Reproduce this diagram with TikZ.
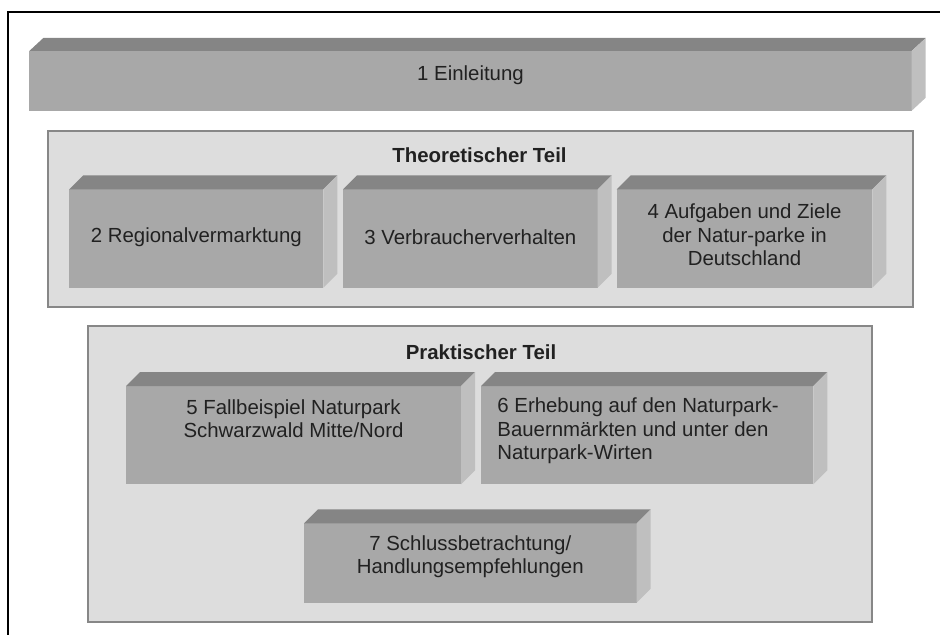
\documentclass[tikz,border=0pt]{standalone}
\usepackage{fontspec}
\setmainfont{Liberation Sans}
\usepackage{tikz}
\usetikzlibrary{calc}
\usetikzlibrary{positioning}

\definecolor{frontgray}{gray}{0.66}
\definecolor{topgray}{gray}{0.52}
\definecolor{sidegray}{gray}{0.75}
\definecolor{panelgray}{gray}{0.865}
\definecolor{panelborder}{gray}{0.53}
\definecolor{textgray}{gray}{0.13}

\begin{document}
\begin{tikzpicture}[x=0.5pt, y=-0.5pt,
  front/.style={fill=frontgray},
  topface/.style={fill=topgray},
  sideface/.style={fill=sidegray},
  panel/.style={fill=panelgray, draw=panelborder, line width=1pt},
  boxtext/.style={font=\fontsize{10.2}{11.7}\selectfont, text=textgray, align=center, inner sep=0pt},
  headtext/.style={font=\fontsize{10.2}{11.7}\selectfont\bfseries, text=textgray, inner sep=0pt}]

\useasboundingbox (0,0) rectangle (940,635);

% Rahmen
\node at (8,640) (r0) {};
\node at (8,12) (r1) {};
\node at (945,12) (r2) {};
\draw[line width=1.25pt] (r0.center) -- (r1.center) -- (r2.center);

% Kapitel 1
\node at (29.3,51) (e0) {};
\node at (911.7,110.7) (e1) {};
\fill[front] (e0.center) rectangle (e1.center);
\fill[topface] (e0.center) -- ++(14,-13) -- ($(e1.center|-e0.center)+(14,-13)$) -- (e1.center|-e0.center) -- cycle;
\fill[sideface] (e1.center|-e0.center) -- ++(14,-13) -- ($(e1.center)+(14,-13)$) -- (e1.center) -- cycle;
\node[boxtext] at (470.5,75) (k1) {1 Einleitung};

% Theoretischer Teil
\node at (48.3,130.7) (p0) {};
\node at (912.7,307.3) (p1) {};
\draw[panel] (p0.center) rectangle (p1.center);
\node[headtext] at (479.5,155) (theo) {Theoretischer Teil};

% Kapitel 2
\node at (69.3,189.3) (a0) {};
\node at (323.3,287.7) (a1) {};
\fill[front] (a0.center) rectangle (a1.center);
\fill[topface] (a0.center) -- ++(14,-14) -- ($(a1.center|-a0.center)+(14,-14)$) -- (a1.center|-a0.center) -- cycle;
\fill[sideface] (a1.center|-a0.center) -- ++(14,-14) -- ($(a1.center)+(14,-14)$) -- (a1.center) -- cycle;
\node[boxtext] at (196.3,237) (k2) {2 Regionalvermarktung};

% Kapitel 3
\node at (343,189.3) (b0) {};
\node at (597.7,287.7) (b1) {};
\fill[front] (b0.center) rectangle (b1.center);
\fill[topface] (b0.center) -- ++(14,-14) -- ($(b1.center|-b0.center)+(14,-14)$) -- (b1.center|-b0.center) -- cycle;
\fill[sideface] (b1.center|-b0.center) -- ++(14,-14) -- ($(b1.center)+(14,-14)$) -- (b1.center) -- cycle;
\node[boxtext] at (470.3,237) (k3) {3 Verbraucherverhalten};

% Kapitel 4
\node at (616.7,189.3) (c0) {};
\node at (872.3,287.7) (c1) {};
\fill[front] (c0.center) rectangle (c1.center);
\fill[topface] (c0.center) -- ++(14,-14) -- ($(c1.center|-c0.center)+(14,-14)$) -- (c1.center|-c0.center) -- cycle;
\fill[sideface] (c1.center|-c0.center) -- ++(14,-14) -- ($(c1.center)+(14,-14)$) -- (c1.center) -- cycle;
\node[boxtext] at (744.5,235) (k4) {4 Aufgaben und Ziele\\der Natur-parke in\\Deutschland};

% Praktischer Teil
\node at (88.3,326) (q0) {};
\node at (871.7,621.7) (q1) {};
\draw[panel] (q0.center) rectangle (q1.center);
\node[headtext] at (481,352) (prak) {Praktischer Teil};

% Kapitel 5
\node at (126,386) (d0) {};
\node at (461,484.3) (d1) {};
\fill[front] (d0.center) rectangle (d1.center);
\fill[topface] (d0.center) -- ++(14,-14) -- ($(d1.center|-d0.center)+(14,-14)$) -- (d1.center|-d0.center) -- cycle;
\fill[sideface] (d1.center|-d0.center) -- ++(14,-14) -- ($(d1.center)+(14,-14)$) -- (d1.center) -- cycle;
\node[boxtext] at (293.5,419) (k5) {5 Fallbeispiel Naturpark\\Schwarzwald Mitte/Nord};

% Kapitel 6
\node at (481,386) (f0) {};
\node at (813.3,484.3) (f1) {};
\fill[front] (f0.center) rectangle (f1.center);
\fill[topface] (f0.center) -- ++(14,-14) -- ($(f1.center|-f0.center)+(14,-14)$) -- (f1.center|-f0.center) -- cycle;
\fill[sideface] (f1.center|-f0.center) -- ++(14,-14) -- ($(f1.center)+(14,-14)$) -- (f1.center) -- cycle;
\node[boxtext, align=left, anchor=west] at (497,431) (k6) {6 Erhebung auf den Naturpark-\\Bauernmärkten und unter den\\Naturpark-Wirten};

% Kapitel 7
\node at (304,523.3) (g0) {};
\node at (636.7,602.7) (g1) {};
\fill[front] (g0.center) rectangle (g1.center);
\fill[topface] (g0.center) -- ++(14,-14) -- ($(g1.center|-g0.center)+(14,-14)$) -- (g1.center|-g0.center) -- cycle;
\fill[sideface] (g1.center|-g0.center) -- ++(14,-14) -- ($(g1.center)+(14,-14)$) -- (g1.center) -- cycle;
\node[boxtext] at (470.3,556.5) (k7) {7 Schlussbetrachtung/\\Handlungsempfehlungen};

\end{tikzpicture}
\end{document}
